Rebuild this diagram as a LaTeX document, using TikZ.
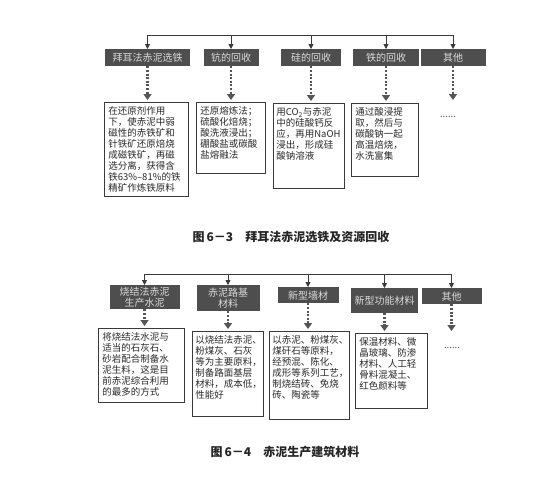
\documentclass[tikz,border=0pt]{standalone}
\usepackage{fontspec}
\newfontfamily\cjk{Noto Sans CJK SC}
\usetikzlibrary{arrows.meta}
\definecolor{hdgray}{HTML}{4E4E4E}
\definecolor{hdtext}{HTML}{DADADA}
\definecolor{linegray}{HTML}{3A3A3A}
\definecolor{txtgray}{HTML}{2A2A2A}
\definecolor{dotgray}{HTML}{555555}
\newcommand\notetext[3]{\parbox[c][#2][t]{#1}{#3}}
\begin{document}
\begin{tikzpicture}[x=1pt, y=-1pt,
   every node/.style={font=\cjk\fontsize{9.5pt}{11pt}\selectfont, text=txtgray},
   head/.style={fill=hdgray, text=hdtext, inner sep=0pt, anchor=north, align=center,
                font=\cjk\fontsize{10pt}{11pt}\selectfont},
   note/.style={draw=linegray, line width=.7pt, anchor=north west, inner xsep=4pt, inner ysep=4pt},
   more/.style={anchor=north, inner sep=0pt, text height=15pt, text=dotgray},
   figcap/.style={font=\cjk\bfseries\fontsize{12pt}{14pt}\selectfont, text=black!85},
   bar/.style={draw=linegray, line width=.8pt},
   drop/.style={bar, -{Triangle[width=5pt,length=5pt]}},
   dotted arrow/.style={draw=dotgray, line width=2.2pt, dash pattern=on 2pt off 1.6pt,
                        -{Triangle[width=8pt,length=6pt]}, shorten >=2pt}]

\useasboundingbox[fill=white] (0,0) rectangle (553,488);

\node[head, minimum width=85pt, minimum height=17pt] (a1) at (147.5,49) {拜耳法赤泥选铁};
\node[head, minimum width=55pt, minimum height=17pt] (a2) at (231,49) {钪的回收};
\node[head, minimum width=60pt, minimum height=17pt] (a3) at (311,49) {硅的回收};
\node[head, minimum width=66pt, minimum height=17pt] (a4) at (386,49) {铁的回收};
\node[head, minimum width=65pt, minimum height=17pt] (a5) at (453,49) {其他};

\node[note] (p1) at (104,102) {\notetext{76pt}{86pt}{在还原剂作用\\下，使赤泥中弱\\磁性的赤铁矿和\\针铁矿还原焙烧\\成磁铁矿，再磁\\选分离，获得含\\铁63\%–81\%的铁\\精矿作炼铁原料}};
\node[note] (p2) at (196,102) {\notetext{61pt}{63pt}{还原熔炼法；\\硫酸化焙烧；\\酸洗液浸出；\\硼酸盐或碳酸\\盐熔融法}};
\node[note, inner xsep=3pt] (p3) at (273,103) {\notetext{65pt}{77pt}{用CO\textsubscript{2}与赤泥\\中的硅酸钙反\\应，再用NaOH\\浸出，形成硅\\酸钠溶液}};
\node[note] (p4) at (351,103) {\notetext{59pt}{65pt}{通过酸浸提\\取，然后与\\碳酸钠一起\\高温焙烧，\\水洗富集}};
\node[more] (p5) at (448,102) {......};

\node[figcap] (f3) at (291,237) {图\,6－3\hspace{1em}拜耳法赤泥选铁及资源回收};

\coordinate (ta) at (0,35);
\draw[bar] (a1 |- ta) -- (a5 |- ta);
\foreach \i in {1,...,5} {
   \draw[drop] (a\i |- ta) -- (a\i.north);
   \draw[dotted arrow] (a\i.south) -- (a\i.south |- p\i.north);
}

\node[head, minimum width=70pt, minimum height=24pt] (c1) at (144.5,285) {烧结法赤泥\\生产水泥};
\node[head, minimum width=63pt, minimum height=26pt] (c2) at (228,285) {赤泥路基\\材料};
\node[head, minimum width=61pt, minimum height=16pt] (c3) at (308,287) {新型墙材};
\node[head, minimum width=67pt, minimum height=25pt] (c4) at (384.5,288) {新型功能材料};
\node[head, minimum width=60pt, minimum height=16pt] (c5) at (451.5,288) {其他};

\node[note] (q1) at (98,328) {\notetext{78pt}{66pt}{将烧结法水泥与\\适当的石灰石、\\砂岩配合制备水\\泥生料，这是目\\前赤泥综合利用\\的最多的方式}};
\node[note, inner xsep=3pt] (q2) at (192,331) {\notetext{65pt}{77pt}{以烧结法赤泥、\\粉煤灰、石灰\\等为主要原料，\\制备路面基层\\材料，成本低，\\性能好}};
\node[note, inner xsep=3pt] (q3) at (269,331) {\notetext{74pt}{80pt}{以赤泥、粉煤灰、\\煤矸石等原料，\\经预混、陈化、\\成形等系列工艺，\\制烧结砖、免烧\\砖、陶瓷等}};
\node[note] (q4) at (355,333) {\notetext{64pt}{67pt}{保温材料、微\\晶玻璃、防渗\\材料、人工轻\\骨料混凝土、\\红色颜料等}};
\node[more] (q5) at (452,333) {......};

\node[figcap] (f4) at (285,452) {图\,6－4\hspace{1em}赤泥生产建筑材料};

\coordinate (tb) at (0,274);
\draw[bar] (c1 |- tb) -- (c5 |- tb);
\foreach \i in {1,...,5} {
   \draw[drop] (c\i |- tb) -- (c\i.north);
   \draw[dotted arrow] (c\i.south) -- (c\i.south |- q\i.north);
}

\end{tikzpicture}
\end{document}
